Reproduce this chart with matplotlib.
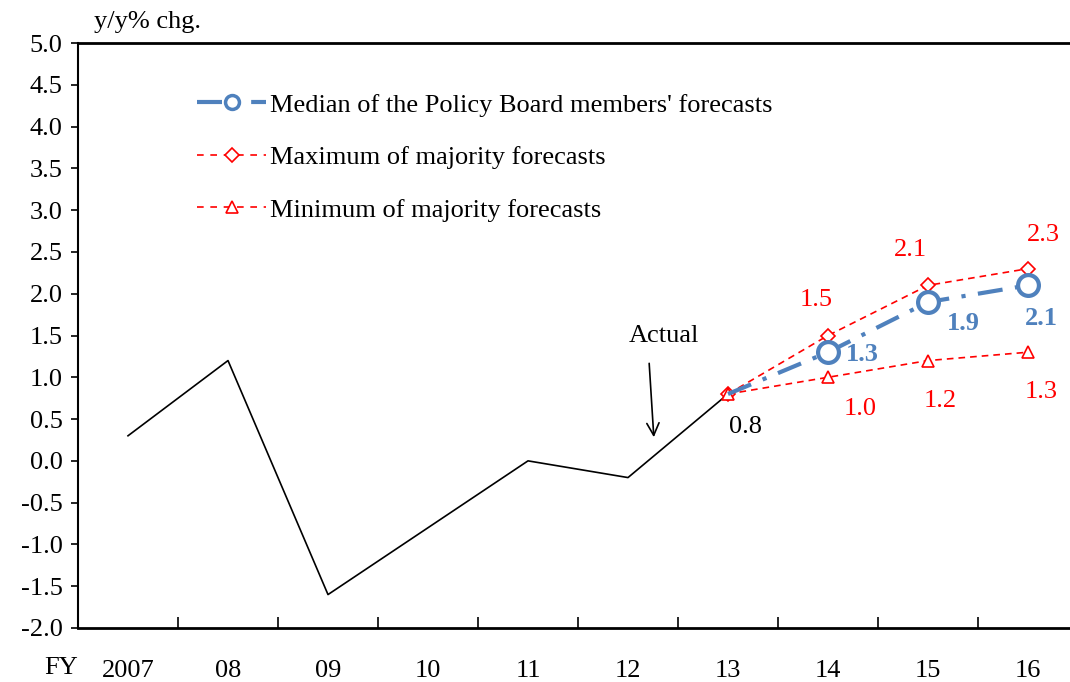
import numpy as np
import matplotlib
matplotlib.use("Agg")
import matplotlib.pyplot as plt
from matplotlib.lines import Line2D

plt.rcParams['font.family'] = ['Liberation Serif', 'DejaVu Serif']

years = ['2007', '08', '09', '10', '11', '12', '13', '14', '15', '16']
actual = [0.3, 1.2, -1.6, -0.8, 0.0, -0.2, 0.8]
fc_idx = [6, 7, 8, 9]
median = [0.8, 1.3, 1.9, 2.1]
fc_max = [0.8, 1.5, 2.1, 2.3]
fc_min = [0.8, 1.0, 1.2, 1.3]

blue = '#4F81BD'
red = '#FF0000'
fs = 19

fig = plt.figure(figsize=(10.70, 6.82), dpi=100)
ax = fig.add_axes([78 / 1070, 54 / 682, 1000 / 1070, 585 / 682])

x = np.arange(len(years))
ax.plot(x[:len(actual)], actual, color='black', lw=1.2)

ax.plot(fc_idx, fc_max, color=red, lw=1.2, ls=(0, (4, 3)), marker='D',
        ms=7, mfc='white', mec=red, mew=1.2, zorder=3)
ax.plot(fc_idx, fc_min, color=red, lw=1.2, ls=(0, (4, 3)), marker='^',
        ms=9, mfc='white', mec=red, mew=1.2, zorder=3)
ax.plot(fc_idx, median, color=blue, lw=3, ls=(0, (6, 3, 1, 3)), zorder=3)
ax.plot(fc_idx[1:], median[1:], ls='none', marker='o', ms=15,
        mfc='white', mec=blue, mew=3, zorder=4)

# value labels
for i, v, dx, dy in zip(fc_idx[1:], median[1:], [34, 35, 13], [-2, -21, -33]):
    ax.annotate(f'{v:.1f}', (i, v), xytext=(dx, dy), textcoords='offset pixels',
                ha='center', va='center', color=blue, fontsize=fs, fontweight='bold')
for i, v, dx, dy in zip(fc_idx[1:], fc_max[1:], [-12, -18, 15], [35, 35, 34]):
    ax.annotate(f'{v:.1f}', (i, v), xytext=(dx, dy), textcoords='offset pixels',
                ha='center', va='center', color=red, fontsize=fs)
for i, v, dx, dy in zip(fc_idx[1:], fc_min[1:], [32, 12, 13], [-32, -40, -40]):
    ax.annotate(f'{v:.1f}', (i, v), xytext=(dx, dy), textcoords='offset pixels',
                ha='center', va='center', color=red, fontsize=fs)
ax.annotate(f'{actual[-1]:.1f}', (6, actual[-1]), xytext=(18, -33), textcoords='offset pixels',
            ha='center', va='center', color='black', fontsize=fs)

ax.annotate('', xy=(5.26, 0.25), xytext=(5.21, 1.2),
            arrowprops=dict(arrowstyle='->', color='black', lw=1.2, mutation_scale=22))
ax.text(5.36, 1.5, 'Actual', ha='center', va='center', fontsize=fs)

ax.set_xlim(-0.5, 9.5)
ax.set_ylim(-2.0, 5.0)
yt = np.arange(-2.0, 5.01, 0.5)
ax.set_yticks(yt)
ax.set_yticklabels([f'{t:.1f}' for t in yt])
ax.set_xticks(x)
ax.set_xticklabels(years)
ax.set_xticks(np.arange(0.5, 9.0, 1.0), minor=True)
ax.tick_params(axis='x', which='major', length=0, pad=23, labelsize=fs)
ax.tick_params(axis='x', which='minor', direction='in', length=8, width=1.2)
ax.tick_params(axis='y', direction='out', length=5, width=1.2, labelsize=fs, pad=6)
ax.spines['right'].set_visible(False)
ax.spines['top'].set_linewidth(2)
ax.spines['left'].set_linewidth(1.5)
ax.spines['bottom'].set_linewidth(2)

fig.text(94 / 1070, 1 - 22 / 682, 'y/y% chg.', ha='left', va='center', fontsize=fs)
fig.text(44 / 1070, 1 - 668 / 682, 'FY', ha='left', va='center', fontsize=fs)

h_med = Line2D([], [], color=blue, lw=3, ls=(0, (6, 3, 1, 3)), marker='o', ms=10,
               mfc='white', mec=blue, mew=2.5)
h_max = Line2D([], [], color=red, lw=1.2, ls=(0, (4, 4)), marker='D', ms=7,
               mfc='white', mec=red, mew=1.2)
h_min = Line2D([], [], color=red, lw=1.2, ls=(0, (4, 4)), marker='^', ms=9,
               mfc='white', mec=red, mew=1.2)
ax.legend([h_med, h_max, h_min],
          ["Median of the Policy Board members' forecasts",
           'Maximum of majority forecasts', 'Minimum of majority forecasts'],
          loc='upper left', bbox_to_anchor=(106 / 1000, 1 - 37 / 585), frameon=False,
          fontsize=fs, handlelength=2.6, handletextpad=0.15, labelspacing=1.1, borderpad=0)

fig.savefig('out.png', dpi=100)
